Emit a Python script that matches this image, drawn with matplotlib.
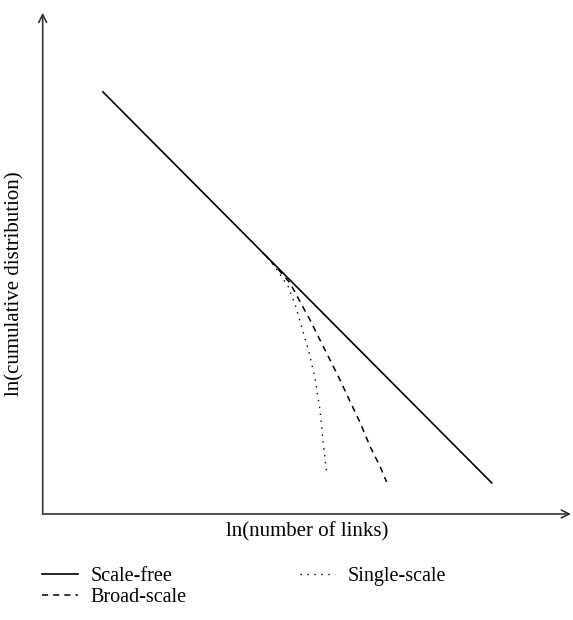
import numpy as np
import matplotlib
matplotlib.use('Agg')
import matplotlib.pyplot as plt

plt.rcParams['font.family'] = ['Liberation Serif', 'DejaVu Serif']

# Значения в условных единицах (ln), оси 0..10
free_x = [1.14, 8.50]
free_y = [8.42, 0.62]

broad_x = [4.17, 4.40, 4.68, 4.87, 5.06, 5.25, 5.44, 5.63, 5.82, 6.01, 6.20, 6.39, 6.51]
broad_y = [5.21, 4.95, 4.61, 4.24, 3.87, 3.47, 3.07, 2.67, 2.24, 1.82, 1.34, 0.94, 0.64]

single_x = [4.17, 4.40, 4.65, 4.78, 4.90, 5.03, 5.15, 5.25, 5.31, 5.38]
single_y = [5.21, 4.93, 4.53, 4.17, 3.74, 3.27, 2.74, 2.07, 1.42, 0.78]

fig = plt.figure(figsize=(5.73, 6.20), dpi=100)
ax = fig.add_axes([0.0745, 0.171, 0.922, 0.8085])
ax.set_xlim(0, 10)
ax.set_ylim(0, 10)

ax.plot(free_x, free_y, color='black', linewidth=1.2, label='Scale-free')
ax.plot(broad_x, broad_y, color='black', linewidth=1.1, linestyle=(0, (4, 3.3)), label='Broad-scale')
ax.plot(single_x, single_y, color='black', linewidth=1.0, linestyle=(0, (1, 4)), label='Single-scale')

for s in ax.spines.values():
    s.set_visible(False)
ax.set_xticks([])
ax.set_yticks([])

# оси со стрелками
ax.annotate('', xy=(1, 0), xytext=(0, 0), xycoords='axes fraction',
            arrowprops=dict(arrowstyle='->', color='#333333', lw=1.2, mutation_scale=14,
                            shrinkA=0, shrinkB=0))
ax.annotate('', xy=(0, 1), xytext=(0, 0), xycoords='axes fraction',
            arrowprops=dict(arrowstyle='->', color='#333333', lw=1.2, mutation_scale=14,
                            shrinkA=0, shrinkB=0))

ax.set_xlabel('ln(number of links)', fontsize=15, labelpad=6)
ax.set_ylabel('ln(cumulative distribution)', fontsize=15)
ax.yaxis.set_label_coords(-0.034, 0.46)

fig.legend(loc='upper left', bbox_to_anchor=(0.06, 0.098), ncol=2, frameon=False,
           fontsize=14.5, handlelength=1.75, handletextpad=0.65, columnspacing=5.6,
           labelspacing=0.08, borderaxespad=0)

fig.savefig('out.png', dpi=100)
